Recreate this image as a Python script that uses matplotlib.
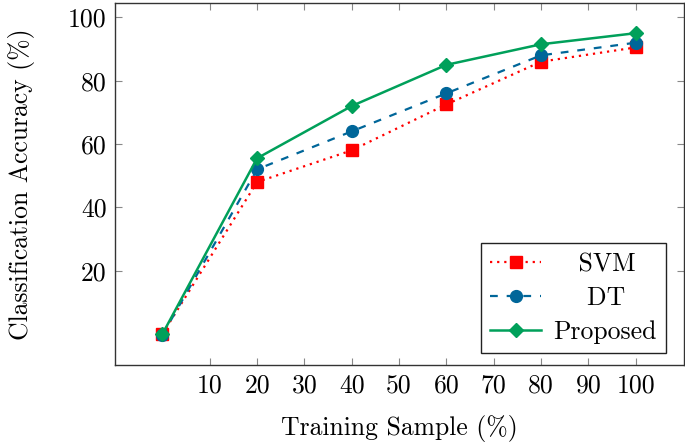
import matplotlib
matplotlib.use("Agg")
import matplotlib.pyplot as plt

plt.rcParams['font.family'] = 'serif'
plt.rcParams['font.serif'] = ['cmr10', 'DejaVu Serif']
plt.rcParams['mathtext.fontset'] = 'cm'
plt.rcParams['axes.unicode_minus'] = False

# data
samples = [0, 20, 40, 60, 80, 100]
svm = [0, 48, 58, 72.5, 86, 90.5]
dt = [-0.3, 52, 64, 76, 88, 92]
proposed = [0, 55.5, 72, 85, 91.5, 95]
x_ticks = [10, 20, 30, 40, 50, 60, 70, 80, 90, 100]
y_ticks = [20, 40, 60, 80, 100]

fig = plt.figure(figsize=(6.85, 4.42), dpi=100)
ax = fig.add_axes([0.168, 0.174, 0.8305, 0.819])

# leading spaces roughly center the shorter labels like the reference legend
ax.plot(samples, svm, color='#ff0000', linestyle=(0, (1, 2.2)), linewidth=1.6,
        marker='s', markersize=8.5, label='   SVM')
ax.plot(samples, dt, color='#006699', linestyle=(0, (3.5, 4)), linewidth=1.6,
        marker='o', markersize=8.5, label='    DT')
ax.plot(samples, proposed, color='#00a05a', linestyle='-', linewidth=1.8,
        marker='D', markersize=7, label='Proposed')

ax.set_xlim(-10, 110.2)
ax.set_ylim(-9.8, 104.5)
ax.set_xticks(x_ticks)
ax.set_yticks(y_ticks)
ax.tick_params(direction='in', length=5, width=0.8, color='#888888',
               top=True, right=True, labelsize=18.5, pad=6)
for s in ax.spines.values():
    s.set_color('#333333')
    s.set_linewidth(1.0)

ax.set_xlabel('Training Sample (%)', fontsize=18.5, labelpad=13)
ax.set_ylabel('Classification Accuracy (%)', fontsize=18.5, labelpad=24)

leg = ax.legend(loc='lower right', fontsize=18.5, fancybox=False, framealpha=1,
                edgecolor='#222222', handlelength=1.95, borderpad=0.35,
                labelspacing=0.4, handletextpad=0.5, borderaxespad=0,
                bbox_to_anchor=(0.968, 0.033))
leg.get_frame().set_linewidth(1.0)

fig.savefig('out.png', dpi=100)
